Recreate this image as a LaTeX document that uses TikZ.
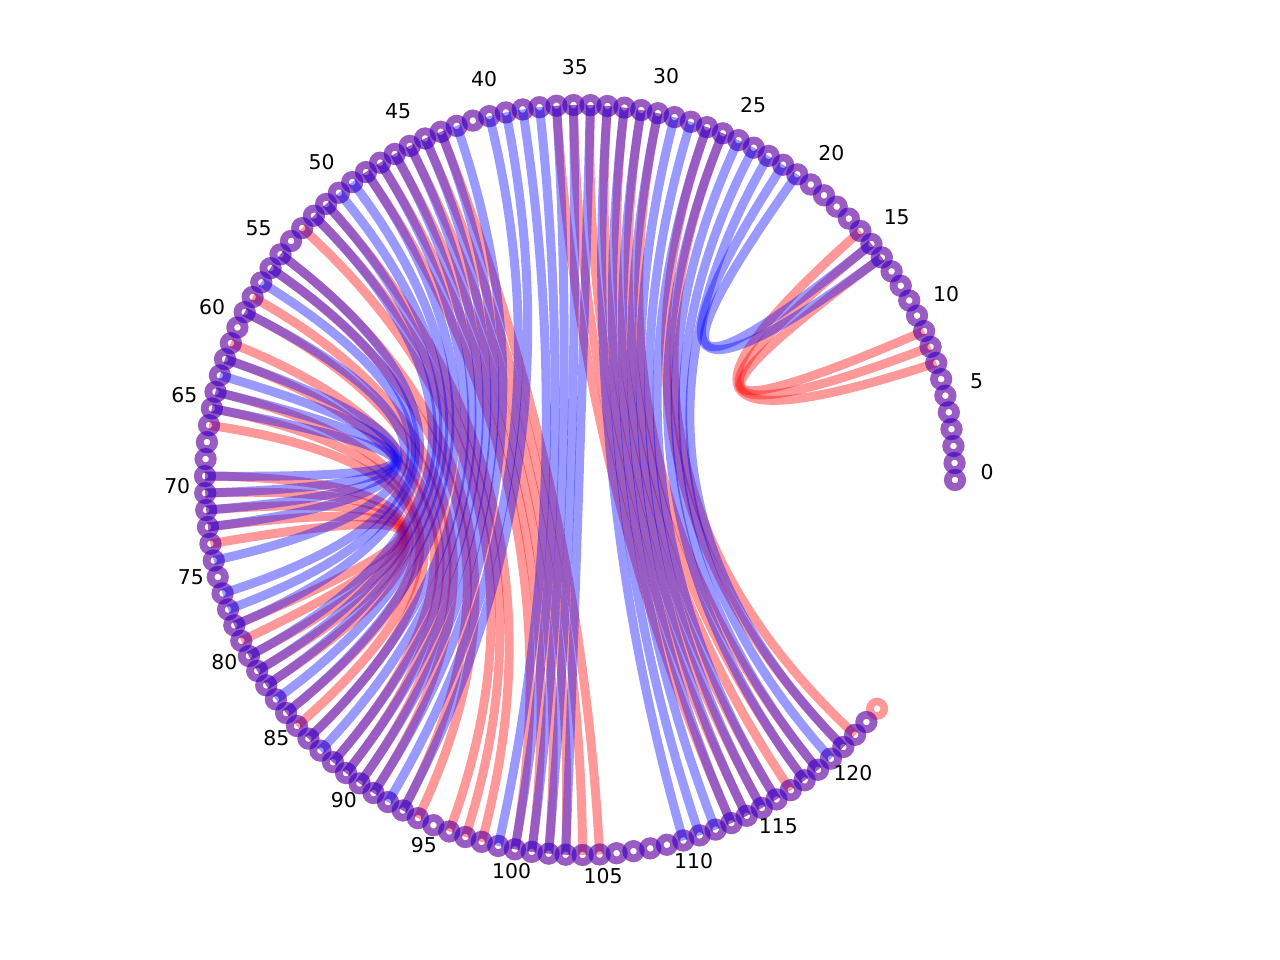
\documentclass[tikz,border=0pt]{standalone}
\usepackage{fontspec}
\setmainfont{DejaVu Sans}
\usetikzlibrary{calc}
\newcommand\qarc[3]{\draw[#1] (n#2) .. controls ($(n#2)!0.6667!(c)$) and ($(n#3)!0.6667!(c)$) .. (n#3);}
\begin{document}
\begin{tikzpicture}[x=1pt,y=1pt,
  redE/.style={draw=red, draw opacity=0.4, line width=9pt},
  blueE/.style={draw=blue, draw opacity=0.4, line width=9pt},
  redring/.style={draw=red, draw opacity=0.4, line width=7.7pt},
  bluering/.style={draw=blue, draw opacity=0.4, line width=7.7pt},
  lab/.style={font=\fontsize{20.4}{24}\selectfont, inner sep=0pt}]
\useasboundingbox (-580,-480) rectangle (700,480);
\coordinate (c) at (0,0);
\foreach \i in {0,...,124} \coordinate (n\i) at ({\i*2.6}:375);
% red graph
\foreach \a/\b in {7/16,8/15,9/14,
  26/122,27/121,30/119,31/118,32/117,33/116,34/115,35/114,36/113,
  43/105,44/104,45/103,46/102,47/101,48/100,
  51/98,52/97,53/96,
  55/94,56/93,58/91,59/90,61/89,62/88,64/86,65/85,66/84,
  69/82,70/81,71/80,72/79,73/78} {\qarc{redE}{\a}{\b}}
\foreach \i in {0,...,124} \draw[redring] (n\i) circle (7.2);
% blue graph
\foreach \a/\b in {14/22,15/21,
  23/121,24/120,25/119,26/118,27/116,28/115,29/114,30/113,31/112,32/111,33/110,
  34/103,35/102,36/101,37/100,38/99,
  39/93,40/92,42/91,43/90,44/89,45/88,46/87,47/86,48/84,49/83,50/82,51/81,52/80,
  55/78,56/77,57/76,59/74,62/72,63/71,64/70,65/69} {\qarc{blueE}{\a}{\b}}
\foreach \i in {0,...,123} \draw[bluering] (n\i) circle (7.2);
% labels
\foreach \i in {0,5,...,120} \node[lab] (l\i) at ($({\i*2.6}:405)+(2,8)$) {\i};
\end{tikzpicture}
\end{document}
